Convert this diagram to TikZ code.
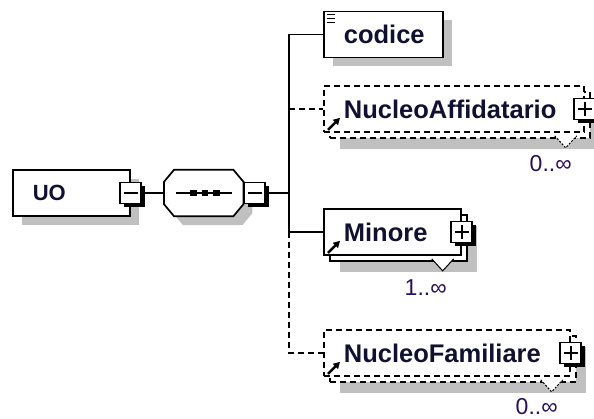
\documentclass[tikz,border=0pt]{standalone}
\usepackage{fontspec}
\setmainfont{Liberation Sans}
\usetikzlibrary{shadows,calc,arrows.meta}

\definecolor{shadowgray}{RGB}{192,192,192}
\definecolor{nametext}{RGB}{16,16,48}
\definecolor{occtext}{RGB}{40,16,88}

\tikzset{
  elem/.style={draw, fill=white, line width=1.7pt, anchor=west,
    minimum height=46pt, inner xsep=20pt, inner ysep=0pt, align=left,
    text=nametext, font=\fontsize{25.5}{30}\selectfont\bfseries},
  opt/.style={dash pattern=on 6pt off 4pt},
  one/.style={drop shadow={shadow xshift=9pt, shadow yshift=-9pt,
    fill=shadowgray, opacity=1}},
  many/.style={drop shadow={shadow xshift=16pt, shadow yshift=-17pt,
    fill=shadowgray, opacity=1},
    copy shadow={shadow xshift=6pt, shadow yshift=-6pt, line width=1.7pt, #1}},
  many/.default={},
  toggle/.style={draw, fill=white, line width=1.7pt, minimum size=21pt,
    inner sep=0pt, drop shadow={shadow xshift=3.5pt, shadow yshift=-3.5pt,
    fill=black, opacity=1}},
  minustog/.style={toggle, path picture={\draw[line width=1.6pt]
    ([xshift=-7pt]path picture bounding box.center) --
    ([xshift=7pt]path picture bounding box.center);}},
  plustog/.style={toggle, path picture={\draw[line width=1.6pt]
    ([xshift=-7pt]path picture bounding box.center) --
    ([xshift=7pt]path picture bounding box.center)
    ([yshift=-7pt]path picture bounding box.center) --
    ([yshift=7pt]path picture bounding box.center);}},
  link/.style={line width=1.7pt},
  reflink/.style={line width=2.6pt, -{Triangle[length=6.5pt,width=7pt]}},
  notch/.style={line width=1pt, fill=white},
  occlabel/.style={text=occtext, font=\fontsize{23}{26}\selectfont}
}

\begin{document}
\begin{tikzpicture}[x=1pt, y=-1pt]
\useasboundingbox (0,0) rectangle (594,419);
% root element
\node[elem, one, text width=77pt, font=\fontsize{22}{26}\selectfont\bfseries] (UO) at (12,193) {UO};
\node[minustog] (UOtog) at (UO.east) {};
% sequence
\node[minimum width=79pt, minimum height=46pt, inner sep=0pt, anchor=west] (seq) at (164,193) {};
\draw[link, fill=white, one] ($(seq.north west)+(10,0)$) -- ($(seq.north east)+(-10,0)$)
  -- ($(seq.north east)+(0,12)$) -- ($(seq.south east)+(0,-12)$)
  -- ($(seq.south east)+(-10,0)$) -- ($(seq.south west)+(10,0)$)
  -- ($(seq.south west)+(0,-12)$) -- ($(seq.north west)+(0,12)$) -- cycle;
\draw[link] ($(seq.west)+(12,0)$) -- ($(seq.east)+(-11,0)$);
\foreach \dx in {29.5,41,52.5}
  \fill ($(seq.west)+(\dx,0)$) +(-3.4,-3.4) rectangle +(3.4,3.4);
\node[minustog, anchor=west] (seqtog) at (seq.east) {};
\coordinate (bus) at (289,193);

% children
\node[elem, one, text width=79pt] (codice) at (323,34.5) {codice};
\foreach \dy in {4,8,12}
  \draw[line width=1.3pt] ($(codice.north west)+(4,\dy)$) -- +(8,0);
\node[elem, opt, many=opt, text width=220pt] (affid) at (323,109) {NucleoAffidatario};
\node[elem, many, text width=97pt] (minore) at (323,232) {Minore};
\node[elem, opt, many=opt, text width=206pt] (famil) at (323,353) {NucleoFamiliare};

\node[plustog] (affidtog) at (affid.east) {};
\node[plustog] (minoretog) at (minore.east) {};
\node[plustog] (familtog) at (famil.east) {};

\foreach \n in {affid,minore,famil}
  \draw[reflink] ($(\n.south west)+(5,-3)$) -- +(12,-12);
\foreach \n in {affid,famil}
  \draw[notch, dash pattern=on 2pt off 1.5pt] ($(\n.south east)+(-30,3)$) -- ++(11,12) -- ++(11,-12);
\draw[notch] ($(minore.south east)+(-30,3)$) -- ++(11,12) -- ++(11,-12);

\node[occlabel] (affidocc) at ($(affid.south east)+(-34,31)$) {0..∞};
\node[occlabel] (minoreocc) at ($(minore.south east)+(-36,32)$) {1..∞};
\node[occlabel] (familocc) at ($(famil.south east)+(-34,30)$) {0..∞};

% connectors
\draw[link] (UOtog) -- (seq);
\draw[link] (seqtog) -- (bus);
\draw[link] (codice.west) -| (bus) |- (minore.west);
\draw[link, opt] (affid.west -| bus) -- (affid.west);
\draw[link, opt] (minore.west -| bus) |- (famil.west);
\end{tikzpicture}
\end{document}
